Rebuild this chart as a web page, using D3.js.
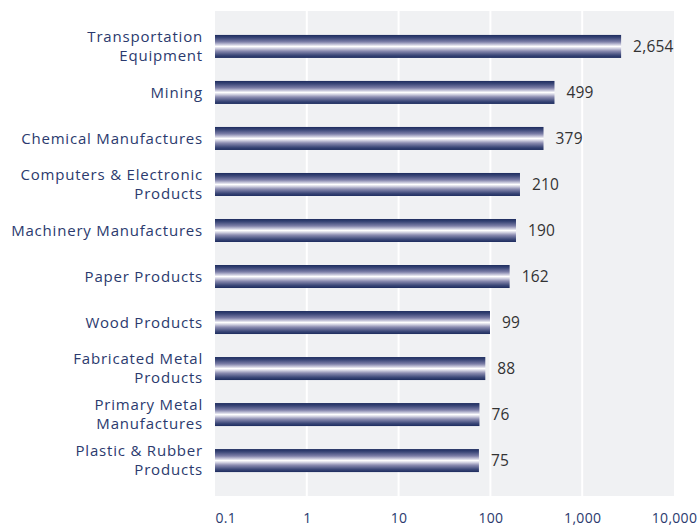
<!DOCTYPE html>
<html>
<head>
<meta charset="utf-8">
<script src="https://cdn.jsdelivr.net/npm/d3@7"></script>
<style>
  html, body { margin: 0; padding: 0; background: #fff; }
  svg { display: block; }
</style>
</head>
<body>
<svg id="chart" width="699" height="527"></svg>
<script>
const categories = [
  ["Transportation", "Equipment"],
  ["Mining"],
  ["Chemical Manufactures"],
  ["Computers & Electronic", "Products"],
  ["Machinery Manufactures"],
  ["Paper Products"],
  ["Wood Products"],
  ["Fabricated Metal", "Products"],
  ["Primary Metal", "Manufactures"],
  ["Plastic & Rubber", "Products"]
];
const values = [2654, 499, 379, 210, 190, 162, 99, 88, 76, 75];
const tickValues = [0.1, 1, 10, 100, 1000, 10000];
const tickLabels = ["0.1", "1", "10", "100", "1,000", "10,000"];

(function () {
const svg = d3.select("#chart");
const mLeft = 215, mRight = 674, mTop = 11, mBottom = 496;
const font = "'Open Sans', sans-serif";

const x = d3.scaleLog().domain([0.1, 10000]).range([mLeft, mRight]);
const y = d3.scaleBand()
  .domain(d3.range(categories.length))
  .range([mTop, mBottom])
  .paddingInner(0.5)
  .paddingOuter(0.52);

const defs = svg.append("defs");
const grad = defs.append("linearGradient")
  .attr("id", "barGrad").attr("x1", 0).attr("y1", 0).attr("x2", 0).attr("y2", 1);
[[0, "#1d2c5e"], [0.12, "#3a4677"], [0.3, "#7c7ea7"], [0.42, "#c9c9dc"],
 [0.5, "#ffffff"], [0.58, "#d4d4e3"], [0.7, "#8a8bb0"], [0.88, "#3d4979"], [1, "#1d2c5e"]]
  .forEach(([o, c]) => grad.append("stop").attr("offset", o).attr("stop-color", c));

svg.append("rect")
  .attr("x", mLeft).attr("y", mTop)
  .attr("width", mRight - mLeft).attr("height", mBottom - mTop)
  .attr("fill", "#f0f1f3");

svg.append("g").selectAll("line")
  .data(tickValues.slice(1, -1))
  .join("line")
  .attr("x1", d => x(d)).attr("x2", d => x(d))
  .attr("y1", mTop).attr("y2", mBottom)
  .attr("stroke", "#ffffff").attr("stroke-width", 2);

svg.append("g").selectAll("rect")
  .data(values)
  .join("rect")
  .attr("x", x(0.1))
  .attr("y", (d, i) => y(i))
  .attr("width", d => x(d) - x(0.1))
  .attr("height", y.bandwidth())
  .attr("fill", "url(#barGrad)");

svg.append("g").selectAll("text")
  .data(values)
  .join("text")
  .attr("x", d => x(d) + 12)
  .attr("y", (d, i) => y(i) + y.bandwidth() / 2)
  .attr("dy", "0.35em")
  .attr("font-family", font)
  .attr("font-size", 15.5)
  .attr("letter-spacing", 0.2)
  .attr("fill", "#333333")
  .text(d => d3.format(",")(d));

const lineH = 19;
const cat = svg.append("g").selectAll("text")
  .data(categories)
  .join("text")
  .attr("text-anchor", "end")
  .attr("font-family", font)
  .attr("font-size", 15)
  .attr("letter-spacing", 0.8)
  .attr("fill", "#2b3a6e");
cat.each(function (lines, i) {
  const cy = y(i) + y.bandwidth() / 2;
  const start = cy - (lines.length - 1) * lineH / 2;
  d3.select(this).selectAll("tspan")
    .data(lines)
    .join("tspan")
    .attr("x", 203)
    .attr("y", (d, j) => start + j * lineH)
    .attr("dy", "0.35em")
    .text(d => d);
});

const axis = d3.axisBottom(x)
  .tickValues(tickValues)
  .tickFormat((d, i) => tickLabels[i])
  .tickSize(0)
  .tickPadding(0);
const ax = svg.append("g").attr("transform", `translate(0, ${mBottom})`).call(axis);
ax.select(".domain").remove();
ax.selectAll("text")
  .attr("y", 27)
  .attr("dy", 0)
  .attr("font-family", font)
  .attr("font-size", 14)
  .attr("letter-spacing", 0.3)
  .attr("fill", "#2b3a6e")
  .attr("text-anchor", (d, i) => i === 0 ? "start" : "middle");
})();
</script>
</body>
</html>
